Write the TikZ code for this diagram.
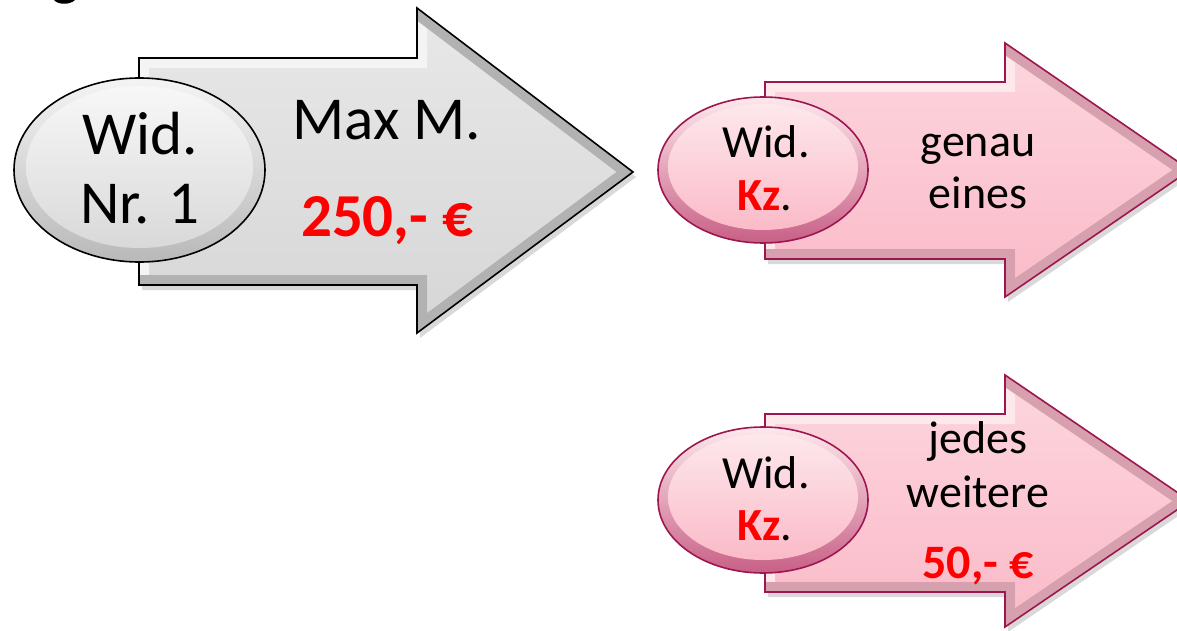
\documentclass[tikz,border=0pt]{standalone}
\usepackage{fontspec}
\setmainfont{Carlito}
\usetikzlibrary{shapes.geometric}
\definecolor{redtxt}{HTML}{FF0000}
% gray arrow colours
\definecolor{gtop}{HTML}{E8E8E8}
\definecolor{gbot}{HTML}{D6D6D6}
\definecolor{gbev}{HTML}{F4F4F4}
\definecolor{gdark}{HTML}{B2B2B2}
\definecolor{gline}{HTML}{000000}
% pink arrow colours
\definecolor{ptop}{HTML}{FCD6DE}
\definecolor{pbot}{HTML}{FBBAC8}
\definecolor{pbev}{HTML}{FDE8EC}
\definecolor{pdark}{HTML}{D6A0AE}
\definecolor{pline}{HTML}{9E1650}
\newcommand\arrpath[8]{(#1,#2) -- (#4,#2) -- (#4,#5) -- (#7,#8) -- (#4,#6) -- (#4,#3) -- (#1,#3) -- cycle}
\newcommand\fancyarrow[9]{%
  \fill[black,opacity=0.15,shift={(3,5)}] \arrpath{#1}{#2}{#3}{#4}{#5}{#6}{#7}{#8};
  \fill[top color=#9top,bottom color=#9bot] \arrpath{#1}{#2}{#3}{#4}{#5}{#6}{#7}{#8};
  \begin{scope}
    \clip \arrpath{#1}{#2}{#3}{#4}{#5}{#6}{#7}{#8};
    \draw[#9bev,line width=20,line join=miter] \arrpath{#1}{#2}{#3}{#4}{#5}{#6}{#7}{#8};
    \draw[#9dark,line width=20,line join=miter] (#4,#5) -- (#7,#8) -- (#4,#6) -- (#4,#3) -- (#1,#3);
  \end{scope}
  \draw[#9line,line width=1.6,line join=miter] \arrpath{#1}{#2}{#3}{#4}{#5}{#6}{#7}{#8};
}
\tikzset{
  gtxt/.style={anchor=base,inner sep=0,font=\fontsize{61}{61}\selectfont},
  ptxt/.style={anchor=base,inner sep=0,font=\fontsize{46}{46}\selectfont},
  redb/.style={text=redtxt,font=\bfseries\fontsize{#1}{#1}\selectfont},
  gell/.style={ellipse,inner sep=0,draw=black,line width=1.6,top color=gbev,bottom color=gray!55},
  gface/.style={ellipse,inner sep=0,top color=white!97!black,bottom color=gray!30},
  pell/.style={ellipse,inner sep=0,draw=pline,line width=1.6,top color=pbev,bottom color=pline!55!pbot},
  pface/.style={ellipse,inner sep=0,top color=pbev,bottom color=pbot}
}
\begin{document}
\begin{tikzpicture}[x=1pt,y=-1pt]
\useasboundingbox (0,0) rectangle (1177,631);
\fill[black] (54,0) .. controls (58,5) and (70,5) .. (75,0) -- cycle;

% gray arrow
\fancyarrow{139}{58}{285}{417}{8}{333}{633}{172}{g}
\node[gell,minimum width=251,minimum height=184] (e1) at (139.5,170) {};
\node[gface,minimum width=227,minimum height=162] (f1) at (139.5,167) {};
\node[gtxt] (t1a) at (140,155) {Wid.};
\node[gtxt] (t1b) at (140,223) {Nr. 1};
\node[gtxt] (t1c) at (387,140) {Max M.};
\node[gtxt,redb=61] (t1d) at (387,236) {250,- €};

% pink arrow 1
\fancyarrow{765}{82}{259}{1005}{43}{297}{1190}{170}{p}
\node[pell,minimum width=210,minimum height=146] (e2) at (763,170) {};
\node[pface,minimum width=190,minimum height=126] (f2) at (763,167) {};
\node[ptxt] (t2a) at (766,158) {Wid.};
\node[ptxt] (t2b) at (765,210) {{\bfseries\color{redtxt}Kz}.};
\node[ptxt] (t2c) at (978,157) {genau};
\node[ptxt] (t2d) at (978,208) {eines};

% pink arrow 2
\fancyarrow{765}{414}{592}{1005}{375}{627}{1190}{501}{p}
\node[pell,minimum width=210,minimum height=146] (e3) at (763,500) {};
\node[pface,minimum width=190,minimum height=126] (f3) at (763,497) {};
\node[ptxt] (t3a) at (766,488) {Wid.};
\node[ptxt] (t3b) at (765,540) {{\bfseries\color{redtxt}Kz}.};
\node[ptxt] (t3c) at (978,453) {jedes};
\node[ptxt] (t3d) at (978,507) {weitere};
\node[ptxt,redb=48] (t3e) at (978,578) {50,- €};
\end{tikzpicture}
\end{document}
